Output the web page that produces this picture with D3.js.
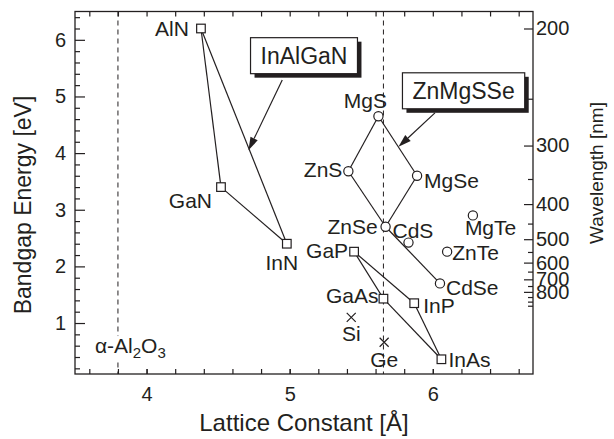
<!DOCTYPE html>
<html><head><meta charset="utf-8">
<script src="https://cdn.jsdelivr.net/npm/d3@7"></script>
<style>
body{margin:0;background:#fff}
svg{display:block}
text{font-family:"Liberation Sans",Arial,Helvetica,sans-serif;fill:#231f20}
</style>
</head><body>
<svg id="chart" width="614" height="439"></svg>
<script>
// ---------- data ----------
const materials      = ["AlN","GaN","InN","MgS","ZnS","MgSe","ZnSe","CdS","MgTe","ZnTe","CdSe","GaP","GaAs","InP","InAs","Si","Ge"];
const latticeConst   = [4.38, 4.52, 4.98, 5.62, 5.41, 5.89, 5.67, 5.83, 6.28, 6.10, 6.05, 5.45, 5.655, 5.87, 6.06, 5.43, 5.66];
const bandgapEnergy  = [6.20, 3.40, 2.40, 4.65, 3.68, 3.60, 2.70, 2.42, 2.90, 2.26, 1.70, 2.26, 1.43, 1.35, 0.36, 1.10, 0.66];
const squareMaterials = ["AlN","GaN","InN","GaP","GaAs","InP","InAs"];
const circleMaterials = ["MgS","ZnS","MgSe","ZnSe","CdS","MgTe","ZnTe","CdSe"];
const crossMaterials  = ["Si","Ge"];
const tieLines = [["AlN","GaN"],["GaN","InN"],["InN","AlN"],
                  ["MgS","ZnS"],["MgS","MgSe"],["ZnS","ZnSe"],["MgSe","ZnSe"],["ZnSe","CdSe"],
                  ["GaP","GaAs"],["GaP","InP"],["GaAs","InAs"],["InP","InAs"]];
const substrateLattice = [3.8, 5.655];
const energyTicks = [1,2,3,4,5,6];
const energyMinorTicks = [0.2,0.4,0.6,0.8,1.2,1.4,1.6,1.8,2.2,2.4,2.6,2.8,3.2,3.4,3.6,3.8,4.2,4.4,4.6,4.8,5.2,5.4,5.6,5.8,6.2,6.4];
const latticeTicks = [4,5,6];
const latticeMinorTicks = [3.6,3.8,4.0,4.2,4.4,4.6,4.8,5.0,5.2,5.4,5.6,5.8,6.0,6.2,6.4,6.6];
const wavelengthTicks = [200,300,400,500,600,700,800];
const wavelengthMinorTicks = [250,350,450,550,650,750,850,900,950];
const annotationText = ["InAlGaN","ZnMgSSe"];
const annotationBoxAt = [[5.10,5.72],[6.215,5.10]];   // box centre (Å, eV)
const annotationFrom  = [[4.948,5.29],[6.015,4.71]];  // arrow start
const annotationTo    = [[4.712,4.05],[5.76,4.11]];   // arrow tip

// ---------- layout ----------
const svg = d3.select("#chart");
const L=75, R=533, T=11.5, B=374;
const x = d3.scaleLinear().domain([3.5,6.7]).range([L,R]);
const y = d3.scaleLinear().domain([0.1,6.5]).range([B,T]);
const hc = 1240; // eV*nm
const wl = d3.scalePow().exponent(-1).domain([hc/0.1, hc/6.5]).range([B,T]);
const ink = "#231f20";

const labelLayout = {
  AlN:{a:"end",dx:-12,dy:8}, GaN:{a:"end",dx:-9,dy:21}, InN:{a:"middle",dx:-5,dy:26},
  MgS:{a:"middle",dx:-13,dy:-8}, ZnS:{a:"end",dx:-6,dy:6}, MgSe:{a:"start",dx:7,dy:12},
  ZnSe:{a:"end",dx:-8,dy:7}, CdS:{a:"start",dx:-16,dy:-5}, MgTe:{a:"start",dx:-8,dy:20},
  ZnTe:{a:"start",dx:5,dy:8}, CdSe:{a:"start",dx:6,dy:12}, GaP:{a:"end",dx:-6,dy:6},
  GaAs:{a:"end",dx:-5,dy:4}, InP:{a:"start",dx:9,dy:10}, InAs:{a:"start",dx:7,dy:8},
  Si:{a:"middle",dx:0,dy:24}, Ge:{a:"middle",dx:0,dy:25}
};

const pts = {};
materials.forEach((m,i)=>pts[m]={name:m,a:latticeConst[i],e:bandgapEnergy[i]});

// ---------- substrate dashed lines ----------
svg.append("g").selectAll("line").data(substrateLattice).join("line")
  .attr("x1",d=>x(d)).attr("x2",d=>x(d)).attr("y1",T).attr("y2",B)
  .attr("stroke",ink).attr("stroke-width",1).attr("stroke-dasharray","5,4");

// alpha-Al2O3 label
const sub = svg.append("text").attr("x",x(substrateLattice[0])-23).attr("y",y(0.47))
  .attr("font-size",21);
sub.append("tspan").text("α-Al");
sub.append("tspan").text("2").attr("font-size",15).attr("dy",5);
sub.append("tspan").text("O").attr("dy",-5);
sub.append("tspan").text("3").attr("font-size",15).attr("dy",5);
const bb = sub.node().getBBox();
svg.insert("rect","text").attr("x",bb.x).attr("y",bb.y+2).attr("width",bb.width).attr("height",bb.height-2).attr("fill","#fff");

// ---------- axes ----------
function styleAxis(g){ g.select(".domain").remove(); g.selectAll("line").attr("stroke",ink).attr("stroke-width",1.2);
  g.selectAll("text").attr("fill",ink).attr("font-size",20).attr("font-family","Liberation Sans, Arial, sans-serif"); }
svg.append("g").attr("transform",`translate(${L},0)`)
  .call(d3.axisLeft(y).tickValues(energyTicks).tickSize(-10).tickPadding(9).tickFormat(d3.format("d"))).call(styleAxis);
svg.append("g").attr("transform",`translate(${L},0)`)
  .call(d3.axisLeft(y).tickValues(energyMinorTicks).tickSize(-5).tickFormat("")).call(styleAxis);
svg.append("g").attr("transform",`translate(0,${B})`)
  .call(d3.axisBottom(x).tickValues(latticeMinorTicks).tickSize(-5).tickFormat("")).call(styleAxis);
svg.append("g").attr("transform",`translate(0,${B})`)
  .call(d3.axisBottom(x).tickValues(latticeTicks).tickSize(-5).tickPadding(13).tickFormat(d3.format("d"))).call(styleAxis);
svg.append("g").attr("transform",`translate(0,${T})`)
  .call(d3.axisTop(x).tickValues(latticeMinorTicks).tickSize(-5).tickFormat("")).call(styleAxis);
svg.append("g").attr("transform",`translate(${R},0)`)
  .call(d3.axisRight(wl).tickValues(wavelengthTicks).tickSize(-9).tickPadding(3).tickFormat(d3.format("d"))).call(styleAxis);
svg.append("g").attr("transform",`translate(${R},0)`)
  .call(d3.axisRight(wl).tickValues(wavelengthMinorTicks).tickSize(-5).tickFormat("")).call(styleAxis);

svg.append("rect").attr("x",L).attr("y",T).attr("width",R-L).attr("height",B-T)
  .attr("fill","none").attr("stroke",ink).attr("stroke-width",1.3);

// axis titles
svg.append("text").attr("x",(L+R)/2).attr("y",431).attr("text-anchor","middle").attr("font-size",24)
  .text("Lattice Constant [Å]");
svg.append("text").attr("transform","translate(31,205) rotate(-90)").attr("text-anchor","middle").attr("font-size",23)
  .text("Bandgap Energy [eV]");
svg.append("text").attr("transform","translate(603,173) rotate(-90)").attr("text-anchor","middle").attr("font-size",19)
  .text("Wavelength [nm]");

// ---------- tie lines ----------
svg.append("g").selectAll("line").data(tieLines).join("line")
  .attr("x1",d=>x(pts[d[0]].a)).attr("y1",d=>y(pts[d[0]].e))
  .attr("x2",d=>x(pts[d[1]].a)).attr("y2",d=>y(pts[d[1]].e))
  .attr("stroke",ink).attr("stroke-width",1.2);

// ---------- markers ----------
const mk = svg.append("g").attr("stroke",ink).attr("stroke-width",1.2).attr("fill","#fff");
mk.selectAll("rect").data(squareMaterials.map(m=>pts[m])).join("rect")
  .attr("x",d=>x(d.a)-4.3).attr("y",d=>y(d.e)-4.3).attr("width",8.6).attr("height",8.6);
mk.selectAll("circle").data(circleMaterials.map(m=>pts[m])).join("circle")
  .attr("cx",d=>x(d.a)).attr("cy",d=>y(d.e)).attr("r",4.6);
mk.selectAll("path").data(crossMaterials.map(m=>pts[m])).join("path")
  .attr("fill","none")
  .attr("d",d=>{const cx=x(d.a),cy=y(d.e),s=4.5;return `M${cx-s},${cy-s}L${cx+s},${cy+s}M${cx-s},${cy+s}L${cx+s},${cy-s}`;});

// ---------- material labels ----------
svg.append("g").selectAll("text").data(materials.map(m=>pts[m])).join("text")
  .attr("x",d=>x(d.a)+labelLayout[d.name].dx).attr("y",d=>y(d.e)+labelLayout[d.name].dy)
  .attr("text-anchor",d=>labelLayout[d.name].a).attr("font-size",21).text(d=>d.name);

// ---------- annotations ----------
annotationText.forEach((t,i)=>{
  const cx=x(annotationBoxAt[i][0]), cy=y(annotationBoxAt[i][1]);
  const g=svg.append("g");
  const x0=x(annotationFrom[i][0]), y0=y(annotationFrom[i][1]);
  const x1=x(annotationTo[i][0]), y1=y(annotationTo[i][1]);
  const ang=Math.atan2(y1-y0,x1-x0), hl=13, hw=4;
  const bx=x1-hl*Math.cos(ang), by=y1-hl*Math.sin(ang);
  g.append("line").attr("x1",x0).attr("y1",y0).attr("x2",bx).attr("y2",by).attr("stroke",ink).attr("stroke-width",1.2);
  g.append("path").attr("fill",ink)
    .attr("d",`M${x1},${y1}L${bx+hw*Math.sin(ang)},${by-hw*Math.cos(ang)}L${bx-hw*Math.sin(ang)},${by+hw*Math.cos(ang)}Z`);
  const txt=g.append("text").attr("x",cx).attr("y",cy+8).attr("text-anchor","middle").attr("font-size",23).text(t);
  const w=txt.node().getComputedTextLength()+20, h=36;
  g.insert("rect","text").attr("x",cx-w/2+4).attr("y",cy-h/2+4).attr("width",w).attr("height",h).attr("fill","#231f20");
  g.insert("rect","text").attr("x",cx-w/2).attr("y",cy-h/2).attr("width",w).attr("height",h)
    .attr("fill","#fff").attr("stroke",ink).attr("stroke-width",1.2);
});
</script>
</body></html>
